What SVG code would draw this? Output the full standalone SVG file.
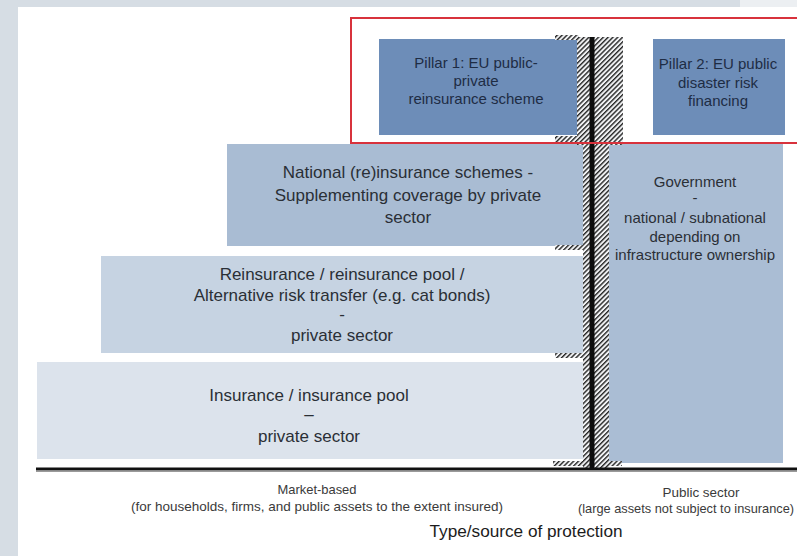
<svg xmlns="http://www.w3.org/2000/svg" width="797" height="556" viewBox="0 0 797 556">
  <defs>
    <pattern id="hatch" width="3.4" height="3.4" patternUnits="userSpaceOnUse" patternTransform="rotate(45)">
      <rect width="3.4" height="3.4" fill="#f2f3f5"/>
      <rect width="1.4" height="3.4" fill="#262626"/>
    </pattern>
    <style>
      .lbl { font-family: "Liberation Sans", Arial, sans-serif; fill: #2a2f36; text-anchor: middle; }
      .big { font-size: 17px; }
      .mid { font-size: 15px; }
      .pil { font-size: 15px; fill: #1e2c44; }
      .axis { font-size: 13px; fill: #3a3a3a; }
      .hatch { fill: url(#hatch); }
    </style>
  </defs>

  <!-- page background and white sheet -->
  <rect x="0" y="0" width="797" height="556" fill="#d6dde4"/>
  <rect x="740" y="0" width="57" height="7" fill="#eceff2"/>
  <rect x="18" y="7" width="779" height="549" fill="#ffffff"/>

  <!-- layered protection blocks -->
  <g id="insurance">
    <rect x="37" y="362" width="546" height="97" fill="#dce3ec"/>
    <text class="lbl big" x="309" y="401">Insurance / insurance pool</text>
    <text class="lbl big" x="309" y="420">–</text>
    <text class="lbl big" x="309" y="442">private sector</text>
  </g>

  <g id="reinsurance">
    <rect x="101" y="256" width="482" height="97" fill="#c6d3e2"/>
    <text class="lbl big" x="342" y="280">Reinsurance / reinsurance pool /</text>
    <text class="lbl big" x="342" y="301">Alternative risk transfer (e.g. cat bonds)</text>
    <text class="lbl big" x="342" y="320">-</text>
    <text class="lbl big" x="342" y="341">private sector</text>
  </g>

  <g id="national">
    <rect x="227" y="144" width="356" height="102" fill="#a9bcd3"/>
    <text class="lbl big" x="408" y="178">National (re)insurance schemes -</text>
    <text class="lbl big" x="408" y="201">Supplementing coverage by private</text>
    <text class="lbl big" x="408" y="223">sector</text>
  </g>

  <g id="government">
    <rect x="608" y="144" width="175" height="319" fill="#aabdd4"/>
    <text class="lbl mid" x="695" y="187">Government</text>
    <text class="lbl mid" x="695" y="203">-</text>
    <text class="lbl mid" x="695" y="223">national  / subnational</text>
    <text class="lbl mid" x="695" y="242">depending on</text>
    <text class="lbl mid" x="695" y="260">infrastructure ownership</text>
  </g>

  <g id="pillar1">
    <rect x="379" y="39" width="201" height="96" fill="#6d8db8"/>
    <text class="lbl pil" x="476" y="68">Pillar 1: EU public-</text>
    <text class="lbl pil" x="476" y="86">private</text>
    <text class="lbl pil" x="476" y="104">reinsurance scheme</text>
  </g>

  <g id="pillar2">
    <rect x="653" y="39" width="132" height="96" fill="#6d8db8"/>
    <text class="lbl pil" x="718" y="69">Pillar 2: EU public</text>
    <text class="lbl pil" x="718" y="88">disaster risk</text>
    <text class="lbl pil" x="718" y="106">financing</text>
  </g>

  <!-- dividing wall between market-based and public sector -->
  <g id="wall">
    <rect class="hatch" x="577" y="37" width="46" height="108"/>
    <rect class="hatch" x="555" y="35" width="24" height="5"/>
    <rect class="hatch" x="555" y="136" width="24" height="8"/>
    <rect class="hatch" x="583" y="145" width="26" height="323"/>
    <rect class="hatch" x="555" y="245" width="28" height="5"/>
    <rect class="hatch" x="555" y="353" width="28" height="5"/>
    <rect class="hatch" x="553" y="461" width="69" height="5"/>
    <rect x="589.5" y="37" width="5" height="431" fill="#0d0d0d"/>
  </g>

  <!-- EU pillars frame -->
  <g id="eu-frame">
    <path d="M797 18 H351 V143 H797" fill="none" stroke="#d8323c" stroke-width="2"/>
  </g>

  <!-- baseline axis -->
  <g id="connectors">
    <line x1="36" y1="469" x2="797" y2="469" stroke="#111" stroke-width="3"/>
    <line x1="36" y1="471.5" x2="797" y2="471.5" stroke="#9a9a9a" stroke-width="1"/>
  </g>

  <g id="axis-labels">
    <text class="lbl axis" x="317" y="494" textLength="79" lengthAdjust="spacingAndGlyphs">Market-based</text>
    <text class="lbl axis" x="317" y="511" textLength="372" lengthAdjust="spacingAndGlyphs">(for households, firms, and public assets to the extent insured)</text>
    <text class="lbl axis" x="701" y="497" textLength="77" lengthAdjust="spacingAndGlyphs">Public sector</text>
    <text class="lbl axis" x="578" y="513" style="text-anchor:start" textLength="216" lengthAdjust="spacingAndGlyphs">(large assets not subject to insurance)</text>
    <text class="lbl" x="526" y="537" style="font-size:16px; fill:#1c1c1c" textLength="193" lengthAdjust="spacingAndGlyphs">Type/source of protection</text>
  </g>
</svg>
